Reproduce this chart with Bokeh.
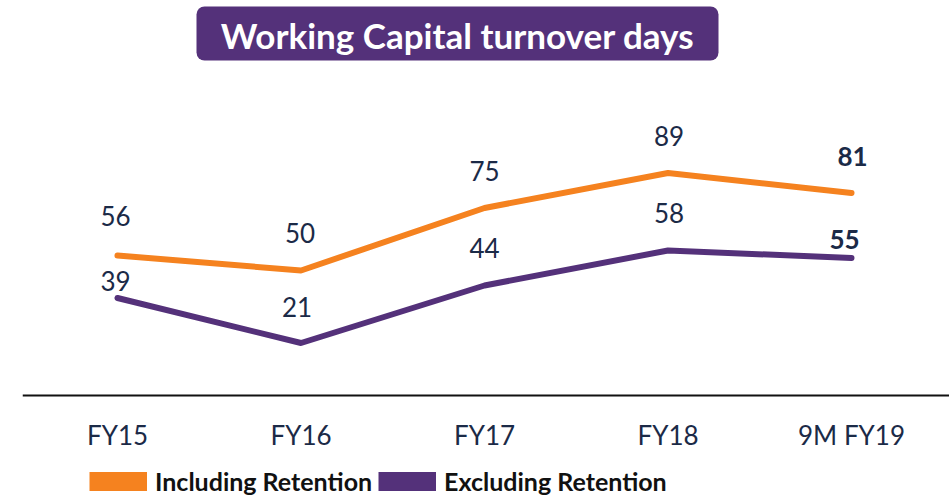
from bokeh.plotting import figure
from bokeh.models import (ColumnDataSource, Range1d, FixedTicker, Label, BoxAnnotation,
                          Legend, LegendItem)
from bokeh.core.properties import value
from bokeh.embed import file_html
from bokeh.resources import INLINE

# ---- data ----
categories = ["FY15", "FY16", "FY17", "FY18", "9M FY19"]
including = [56, 50, 75, 89, 81]
excluding = [39, 21, 44, 58, 55]
title_text = "Working Capital turnover days"
series_names = ["Including Retention", "Excluding Retention"]

# ---- styles ----
ORANGE = "#F5821F"
PURPLE = "#54317A"
NAVY = "#1B2A47"
FONT = "Lato"
inc_dx = [-2, -1, 0, 1, 1]
inc_dy = [-40, -38, -37, -37, -37]
exc_dx = [-2, -4, 0, 1, -7]
exc_dy = [-17, -36, -38, -38, -19]
bold_flags = [False, False, False, False, True]

xs = list(range(len(categories)))
nan = float("nan")

p = figure(width=949, height=497, output_backend="svg", toolbar_location=None,
           x_range=Range1d(-0.5177, 4.534), y_range=Range1d(-40.8, 158),
           y_axis_location=None, min_border_top=0, min_border_bottom=0,
           min_border_left=22, min_border_right=0)
p.background_fill_color = None
p.border_fill_color = "white"
p.outline_line_color = None
p.grid.visible = False

ax = p.xaxis[0]
ax.fixed_location = 0
ax.ticker = FixedTicker(ticks=xs)
ax.major_label_overrides = {i: c for i, c in zip(xs, categories)}
ax.major_tick_in = 0
ax.major_tick_out = 0
ax.minor_tick_in = 0
ax.minor_tick_out = 0
ax.axis_line_color = "#111111"
ax.axis_line_width = 2
ax.major_label_standoff = 23
ax.major_label_text_font = FONT
ax.major_label_text_font_size = "26px"
ax.major_label_text_color = NAVY

# lines
p.line(xs, including, line_color=ORANGE, line_width=6, line_cap="round", line_join="round")
p.line(xs, excluding, line_color=PURPLE, line_width=6, line_cap="round", line_join="round")

# data labels
def add_labels(vals, dx, dy):
    src = ColumnDataSource(dict(
        x=xs, y=vals, t=[str(v) for v in vals], dx=dx, dy=dy,
        st=["bold" if b else "normal" for b in bold_flags]))
    p.text(x="x", y="y", text="t", x_offset="dx", y_offset="dy", source=src,
           text_align="center", text_baseline="middle", text_font=value(FONT),
           text_font_size="26px", text_color=NAVY, text_font_style="st")

add_labels(including, inc_dx, inc_dy)
add_labels(excluding, exc_dx, exc_dy)

# title box
p.add_layout(BoxAnnotation(left=174, right=696, top=491, bottom=437,
                           left_units="screen", right_units="screen",
                           top_units="screen", bottom_units="screen",
                           fill_color=PURPLE, fill_alpha=1.0, line_color=None,
                           border_radius=8, level="overlay"))
p.add_layout(Label(x=435, y=463, x_units="screen", y_units="screen", text=title_text,
                   text_align="center", text_baseline="middle",
                   text_font=FONT, text_font_style="bold", text_font_size="35px",
                   text_color="white", level="overlay"))

# legend (swatches drawn as thick legend lines; the renderers themselves draw nothing)
r1 = p.line([0], [nan], line_color=ORANGE, line_width=19, line_cap="butt")
r2 = p.line([0], [nan], line_color=PURPLE, line_width=19, line_cap="butt")
legend = Legend(items=[LegendItem(label=series_names[0], renderers=[r1]),
                       LegendItem(label=series_names[1], renderers=[r2])],
                orientation="horizontal", location=(67, 1),
                glyph_width=58, glyph_height=30, label_standoff=8, spacing=6,
                padding=0, margin=0, border_line_color=None,
                background_fill_alpha=0.0,
                label_text_font=FONT, label_text_font_style="bold",
                label_text_font_size="25px", label_text_color="#111111")
p.add_layout(legend, "center")

open("out.html", "w").write(file_html(p, INLINE))
